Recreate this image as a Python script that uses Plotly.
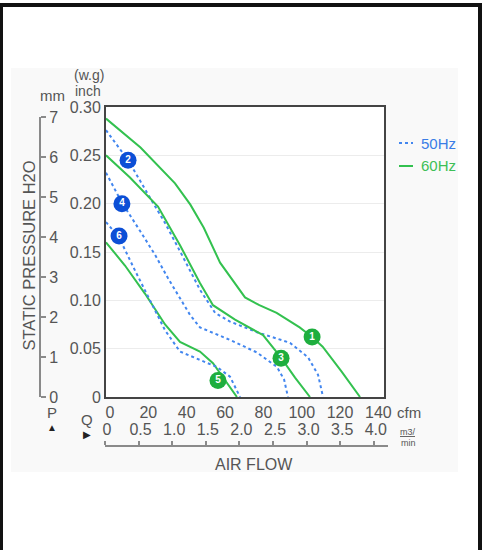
import plotly.graph_objects as go

W, H = 487, 550

# ---------------- data (airflow in cfm, static pressure in inch H2O) ----------------
c1_q = [0, 18, 36, 44, 51, 59.5, 72.5, 80, 89, 101, 107.5, 113, 123, 132.5]          # curve 1, 60Hz
c1_p = [0.288, 0.258, 0.221, 0.199, 0.175, 0.139, 0.103, 0.095, 0.087, 0.072, 0.062, 0.052, 0.026, 0]

c2_q = [0, 11.5, 23, 30.8, 39.6, 49, 56.9, 64.7, 78.8, 96, 105.4, 110.6, 113.2]       # curve 2, 50Hz
c2_p = [0.276, 0.245, 0.206, 0.180, 0.147, 0.111, 0.087, 0.078, 0.067, 0.056, 0.041, 0.023, 0]

c3_q = [0, 12.5, 27.1, 38.6, 49, 55.8, 67.3, 81.9, 90.8, 98.6, 106.4]                 # curve 3, 60Hz
c3_p = [0.250, 0.227, 0.197, 0.157, 0.118, 0.095, 0.080, 0.064, 0.042, 0.020, 0]

c4_q = [0, 8.3, 17.7, 25.6, 32.3, 38.6, 43.8, 49, 64.7, 78.8, 89.2, 92.9, 94.9]       # curve 4, 50Hz
c4_p = [0.232, 0.201, 0.172, 0.147, 0.123, 0.102, 0.085, 0.072, 0.059, 0.046, 0.031, 0.018, 0]

c5_q = [0, 9.9, 20.3, 30.8, 38.6, 49, 55.8, 62.1, 68.3]                               # curve 5, 60Hz
c5_p = [0.160, 0.136, 0.107, 0.075, 0.057, 0.047, 0.035, 0.018, 0]

c6_q = [0, 6.8, 15.1, 23, 30.8, 38.6, 49, 57.9, 64.7, 69.9]                           # curve 6, 50Hz
c6_p = [0.181, 0.165, 0.131, 0.100, 0.069, 0.047, 0.038, 0.031, 0.021, 0]

label_ids = ["1", "2", "3", "4", "5", "6"]
label_q = [107.5, 11.5, 91.3, 8.3, 58.4, 6.8]
label_p = [0.062, 0.245, 0.040, 0.200, 0.017, 0.1665]
label_hz = ["60", "50", "60", "50", "60", "50"]

cfm_ticks = [0, 20, 40, 60, 80, 100, 120, 140]
inch_ticks = [0, 0.05, 0.10, 0.15, 0.20, 0.25, 0.30]
inch_labels = ["0", "0.05", "0.10", "0.15", "0.20", "0.25", "0.30"]
mm_ticks = [0, 1, 2, 3, 4, 5, 6, 7]
m3_ticks = [0, 0.5, 1.0, 1.5, 2.0, 2.5, 3.0, 3.5, 4.0]
m3_labels = ["0", "0.5", "1.0", "1.5", "2.0", "2.5", "3.0", "3.5", "4.0"]

# ---------------- styling ----------------
GREEN = "#33c14f"
BLUE = "#4286ef"
GREEN_MK = "#1eae3e"
BLUE_MK = "#0c4fd6"
GREY = "#555555"
AXG = "#8a8a8a"
FONT = "Liberation Sans, Arial, sans-serif"


def fx(px):
    return px / W


def fy(py):
    return 1 - py / H


fig = go.Figure()

curves = [
    (c1_q, c1_p, "60"), (c2_q, c2_p, "50"), (c3_q, c3_p, "60"),
    (c4_q, c4_p, "50"), (c5_q, c5_p, "60"), (c6_q, c6_p, "50"),
]
for q, p, hz in curves:
    if hz == "60":
        line = dict(color=GREEN, width=2)
    else:
        line = dict(color=BLUE, width=2, dash="dot")
    fig.add_trace(go.Scatter(x=q, y=p, mode="lines", line=line, hoverinfo="skip",
                             showlegend=False, xaxis="x", yaxis="y"))

fig.add_trace(go.Scatter(
    x=label_q, y=label_p, mode="markers+text",
    text=["<b>%s</b>" % t for t in label_ids], textposition="middle center",
    textfont=dict(color="white", size=10, family=FONT),
    marker=dict(size=17, color=[GREEN_MK if h == "60" else BLUE_MK for h in label_hz],
                line=dict(width=0)),
    hoverinfo="skip", showlegend=False, xaxis="x", yaxis="y"))

fig.add_trace(go.Scatter(x=[None], y=[None], xaxis="x", yaxis="y2", showlegend=False, hoverinfo="skip"))
fig.add_trace(go.Scatter(x=[None], y=[None], xaxis="x3", yaxis="y4", showlegend=False, hoverinfo="skip"))

shapes = [
    dict(type="rect", xref="paper", yref="paper", x0=fx(11), x1=fx(458), y0=fy(472), y1=fy(68),
         fillcolor="#f9f9f9", line=dict(width=0), layer="below"),
    dict(type="rect", xref="x domain", yref="y domain", x0=0, x1=1, y0=0, y1=1,
         fillcolor="white", line=dict(width=0), layer="below"),
    dict(type="rect", xref="paper", yref="paper", x0=fx(1), x1=fx(480), y0=fy(600), y1=fy(5),
         line=dict(color="#111111", width=4), layer="above"),
    dict(type="line", xref="paper", yref="paper", x0=fx(399), x1=fx(413), y0=fy(143), y1=fy(143),
         line=dict(color=BLUE, width=2, dash="dot")),
    dict(type="line", xref="paper", yref="paper", x0=fx(399), x1=fx(413), y0=fy(166), y1=fy(166),
         line=dict(color=GREEN, width=2)),
]

ann = []


def add_text(text, px, py, size=16, color=GREY, xanchor="center", yanchor="middle", angle=0):
    ann.append(dict(text=text, x=fx(px), y=fy(py), xref="paper", yref="paper", showarrow=False,
                    xanchor=xanchor, yanchor=yanchor, textangle=angle,
                    font=dict(size=size, color=color, family=FONT)))


add_text("50Hz", 419, 143, size=15, color="#3a7de6", xanchor="left")
add_text("60Hz", 419, 166, size=15, color="#3dbf56", xanchor="left")
add_text("STATIC PRESSURE H2O", 28.5, 256, size=16.5, angle=-90)
add_text("AIR FLOW", 254, 464, size=16)
add_text("mm", 52, 95, size=15)
add_text("(w.g)", 89, 75, size=14)
add_text("inch", 88, 91, size=14)
add_text("P", 52, 412, size=15)
add_text("▲", 52, 427, size=10, color="#222222")
add_text("Q", 87, 419, size=15)
add_text("▶", 87, 434, size=10, color="#222222")
add_text("cfm", 395, 412, size=15, xanchor="left")
add_text("<u>m3/</u>", 408, 432, size=9)
add_text("min", 408, 443, size=9)

fig.update_layout(
    template="none",
    width=W, height=H, autosize=False,
    margin=dict(l=0, r=0, t=0, b=0, pad=0),
    paper_bgcolor="white", plot_bgcolor="rgba(0,0,0,0)",
    font=dict(family=FONT, size=16, color=GREY),
    showlegend=False,
    shapes=shapes, annotations=ann,
    xaxis=dict(domain=[fx(106), fx(384)], range=[0, 145], tickvals=cfm_ticks, automargin=False,
               showgrid=False, zeroline=False, showline=True, linecolor="#444444", linewidth=2,
               mirror=True, ticks="", ticklabelshift=4, tickfont=dict(size=16, color=GREY), anchor="y"),
    yaxis=dict(domain=[fy(397), fy(107)], range=[0, 0.30], tickvals=inch_ticks, ticktext=inch_labels,
               automargin=False,
               showgrid=True, gridcolor="#ececec", gridwidth=1, zeroline=False, showline=True,
               linecolor="#444444", linewidth=2, mirror=True, ticks="",
               tickfont=dict(size=16, color=GREY), anchor="x"),
    yaxis2=dict(domain=[fy(397), fy(117)], range=[0, 7], tickvals=mm_ticks, anchor="free",
                position=fx(40), side="right", showline=True, linecolor=AXG, linewidth=2, automargin=False,
                ticks="outside", ticklen=5, tickwidth=2, tickcolor=AXG, showgrid=False, zeroline=False,
                tickfont=dict(size=16, color=GREY)),
    xaxis3=dict(domain=[fx(105), fx(388)], range=[0, 283 / 67.2], tickvals=m3_ticks, ticktext=m3_labels,
                anchor="y4", side="top", showline=True, linecolor=AXG, linewidth=2, automargin=False,
                ticks="outside", ticklen=4, tickwidth=1.5, tickcolor=AXG, showgrid=False, zeroline=False,
                ticklabelshift=2, tickfont=dict(size=16, color=GREY)),
    yaxis4=dict(domain=[fy(460), fy(447)], range=[0, 1], visible=False, anchor="x3", automargin=False),
)

fig.write_html(
    "out.html",
    config={"displayModeBar": False},
    post_script="document.body.style.margin='0px';document.body.style.padding='0px';"
                "document.body.style.overflow='hidden';",
)
